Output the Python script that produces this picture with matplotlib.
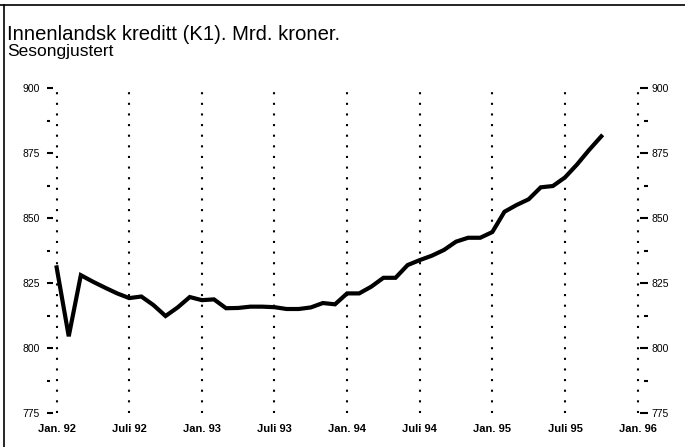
import numpy as np
import matplotlib.pyplot as plt
from matplotlib.lines import Line2D

plt.rcParams['font.family'] = ['Liberation Sans', 'DejaVu Sans']

# ─── Data: monthly, Jan. 92 - Okt. 95 (Mrd. kroner, sesongjustert) ───
kreditt = [831.0, 804.5, 828.0, 825.5, 823.2, 821.0, 819.2, 819.8, 816.5, 812.3, 815.6, 819.6,
           818.4, 818.7, 815.3, 815.4, 815.9, 815.9, 815.7, 815.0, 815.0, 815.6, 817.3, 816.8,
           821.0, 821.0, 823.6, 827.0, 827.0, 831.9, 833.8, 835.5, 837.7, 840.9, 842.4, 842.4,
           844.6, 852.4, 855.0, 857.2, 861.8, 862.3, 865.6, 870.6, 876.2, 881.4]
maaned = np.arange(len(kreditt))

tick_pos = [0, 6, 12, 18, 24, 30, 36, 42, 48]
tick_labels = ['Jan. 92', 'Juli 92', 'Jan. 93', 'Juli 93', 'Jan. 94',
               'Juli 94', 'Jan. 95', 'Juli 95', 'Jan. 96']
y_major = [775, 800, 825, 850, 875, 900]
y_minor = [787.5, 812.5, 837.5, 862.5, 887.5]

W, H = 685, 447
fig = plt.figure(figsize=(W / 100, H / 100), dpi=100)
ax = fig.add_axes([53 / W, 1 - 413 / H, 587 / W, 325 / H])

ax.set_xlim(-0.3, 48.2)
ax.set_ylim(775, 900)

# dotted half-year lines
for p in tick_pos:
    ax.axvline(p, color='black', lw=1.5, ls=(0, (1, 4.1)), dash_capstyle='butt', zorder=1)

ax.plot(maaned, kreditt, color='black', lw=3.0, solid_joinstyle='miter', zorder=3)

for s in ax.spines.values():
    s.set_visible(False)

# x axis
ax.set_xticks(tick_pos, tick_labels)
ax.tick_params(axis='x', length=0, pad=8, labelsize=8)
for lbl in ax.get_xticklabels():
    lbl.set_fontweight('bold')

# left y axis
ax.set_yticks(y_major)
ax.tick_params(axis='y', direction='out', length=4.3, width=1.5, pad=5, labelsize=7.5)

# right y axis
ax2 = ax.twinx()
ax2.set_ylim(775, 900)
ax2.set_yticks(y_major)
ax2.tick_params(axis='y', direction='out', length=5.5, width=1.5, pad=2.5, labelsize=7.5)
for s in ax2.spines.values():
    s.set_visible(False)

# minor tick dashes (sit at the outer end of the major ticks)
trans = ax.get_yaxis_transform()
for v in y_minor:
    ax.plot([-0.0102, -0.0051], [v, v], transform=trans, color='black', lw=1.5,
            solid_capstyle='butt', clip_on=False)
    ax.plot([1.0068, 1.0129], [v, v], transform=trans, color='black', lw=1.5,
            solid_capstyle='butt', clip_on=False)

# titles
fig.text(7 / W, 1 - 40 / H, 'Innenlandsk kreditt (K1). Mrd. kroner.', fontsize=14.6, va='baseline')
fig.text(7 / W, 1 - 56 / H, 'Sesongjustert', fontsize=12.5, va='baseline')

# frame lines (top and left)
fig.add_artist(Line2D([0, 1], [1 - 5 / H, 1 - 5 / H], transform=fig.transFigure, color='black', lw=1.2))
fig.add_artist(Line2D([4 / W, 4 / W], [0, 1 - 5 / H], transform=fig.transFigure, color='black', lw=1.2))

fig.savefig('out.png', dpi=100, facecolor='white')
